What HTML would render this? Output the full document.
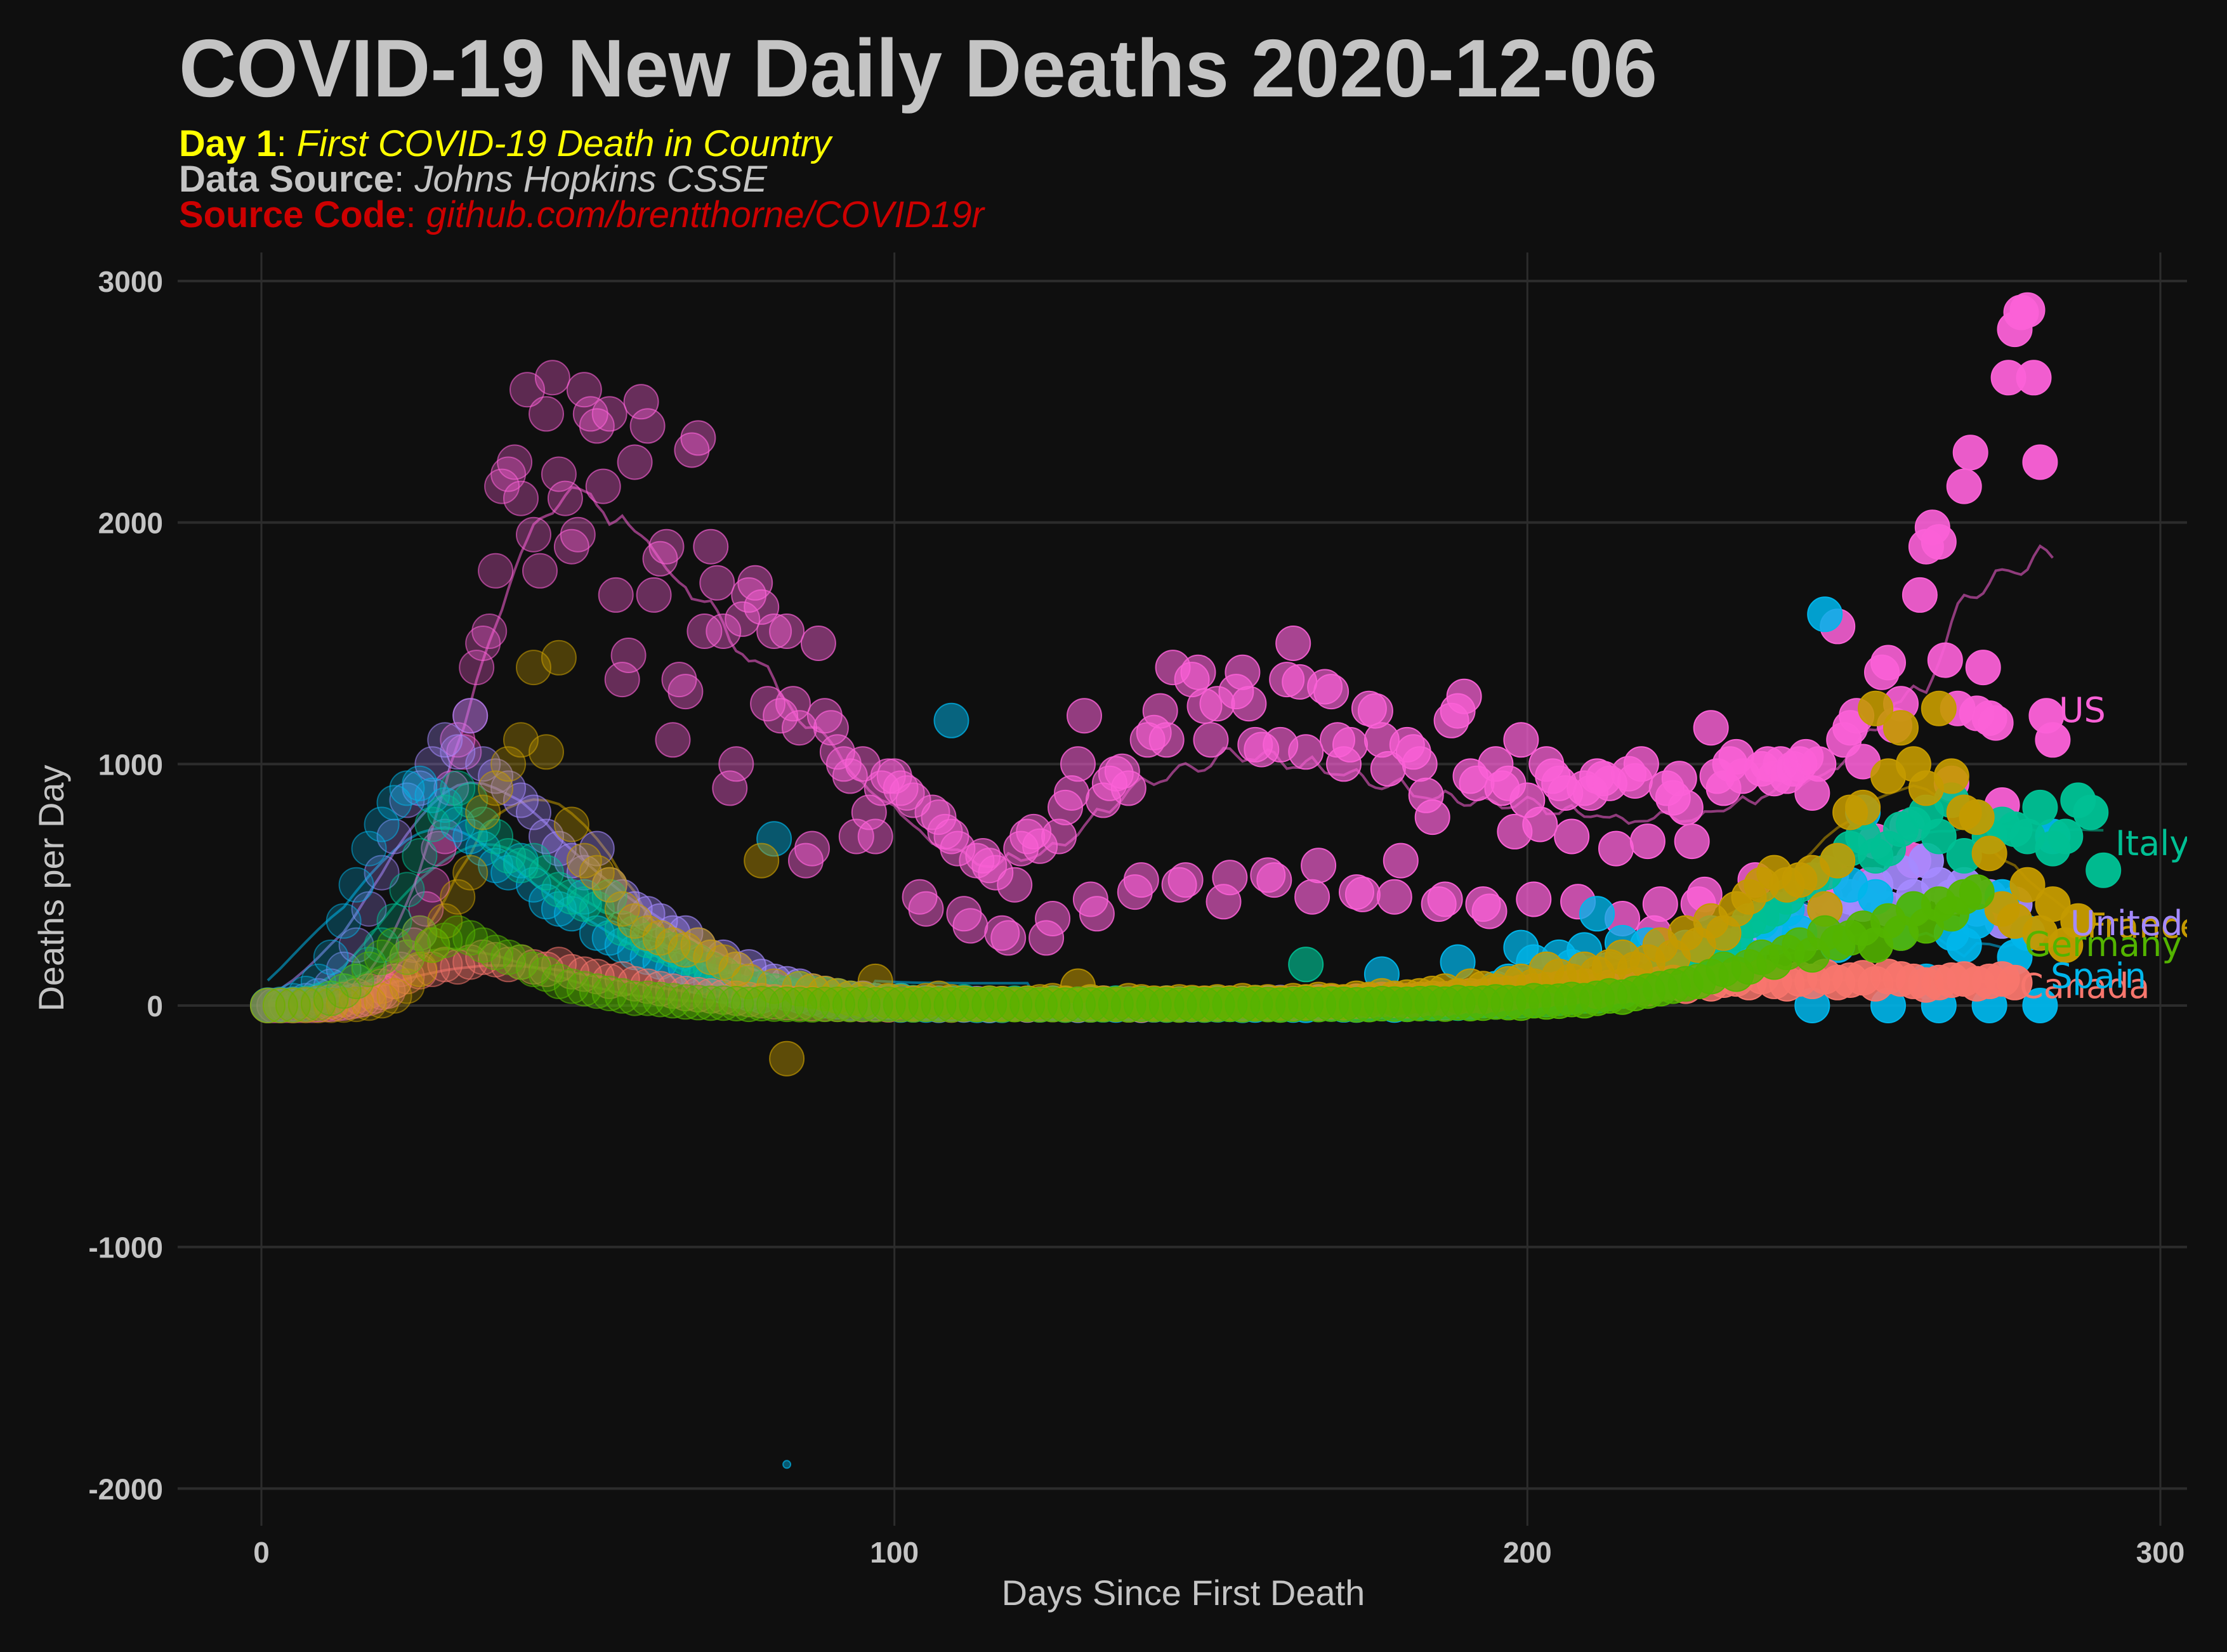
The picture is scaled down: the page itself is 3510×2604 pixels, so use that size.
<!DOCTYPE html>
<html><head><meta charset="utf-8"><style>
html,body{margin:0;padding:0;background:#0f0f0f;}
svg{display:block;}
</style></head><body>
<svg id="chart" width="3510" height="2604" viewBox="0 0 3510 2604" xmlns="http://www.w3.org/2000/svg">
<rect x="0" y="0" width="3510" height="2604" fill="#0f0f0f"/>
<text x="282" y="152" font-family="Liberation Sans, sans-serif" font-weight="bold" font-size="129" fill="#c4c4c4" textLength="2330" lengthAdjust="spacingAndGlyphs">COVID-19 New Daily Deaths 2020-12-06</text>
<text x="282" y="246" font-family="Liberation Sans, sans-serif" font-size="58" fill="#ffff00" textLength="1028" lengthAdjust="spacingAndGlyphs"><tspan font-weight="bold">Day 1</tspan>: <tspan font-style="italic">First COVID-19 Death in Country</tspan></text>
<text x="282" y="302" font-family="Liberation Sans, sans-serif" font-size="58" fill="#c4c4c4" textLength="927" lengthAdjust="spacingAndGlyphs"><tspan font-weight="bold">Data Source</tspan>: <tspan font-style="italic">Johns Hopkins CSSE</tspan></text>
<text x="282" y="358" font-family="Liberation Sans, sans-serif" font-size="58" fill="#cc0000" textLength="1269" lengthAdjust="spacingAndGlyphs"><tspan font-weight="bold">Source Code</tspan>: <tspan font-style="italic">github.com/brentthorne/COVID19r</tspan></text>
<g id="grid"></g>
<g id="axes"></g>
<defs><clipPath id="panelClip"><rect x="280" y="398" width="3167" height="2008"/></clipPath></defs>
<g id="lines" clip-path="url(#panelClip)"></g>
<g id="points" clip-path="url(#panelClip)"></g>
<g id="labels" clip-path="url(#panelClip)"></g>
<text x="1865" y="2530" text-anchor="middle" font-family="Liberation Sans, sans-serif" font-size="56" fill="#c4c4c4">Days Since First Death</text>
<text x="100" y="1400" text-anchor="middle" transform="rotate(-90 100 1400)" font-family="Liberation Sans, sans-serif" font-size="56" fill="#c4c4c4">Deaths per Day</text>
</svg>
<script>
const xTicks = [0, 100, 200, 300];
const yTicks = [-2000, -1000, 0, 1000, 2000, 3000];
const countries = ["Canada", "France", "Germany", "Italy", "Spain", "United Kingdom", "US"];
const colors = ["#F8766D", "#C49A00", "#53B400", "#00C094", "#00B6EB", "#A58AFF", "#FB61D7"];
const steps = [2, 2, 2, 2, 2, 2, 1];
const canadaDeaths = [0,1,2,5,10,15,25,40,60,80,100,120,140,150,170,160,180,200,190,170,180,160,150,170,140,130,120,100,110,90,80,70,60,50,45,40,35,30,25,20,15,12,10,8,6,5,5,4,6,3,4,5,6,3,2,4,5,3,4,5,3,5,4,6,3,4,5,6,3,2,4,5,3,4,5,6,8,5,7,6,10,8,12,10,15,12,18,20,25,22,20,25,30,28,35,40,38,45,50,55,60,65,70,75,80,60,75,80,85,70,90,95,80,100,90,105,110,95,120,100,90,110,100,120,95,105,115,90,120,110,100,85,95,105,110,90,100,110,95];
const franceDeaths = [0,0,0,0,0,1,2,5,10,20,40,80,150,250,350,450,550,800,900,1000,1100,1400,1050,1440,750,600,550,500,400,350,300,280,250,230,250,200,180,150,100,600,80,-220,70,60,50,40,30,25,100,20,15,10,20,30,15,10,5,10,8,5,10,15,20,10,80,15,10,5,20,15,10,10,15,12,10,15,10,20,12,15,10,20,15,25,20,15,30,25,40,30,35,40,50,60,40,80,70,60,90,100,80,150,120,100,150,130,160,200,150,180,250,200,300,250,350,300,400,450,500,550,500,520,550,400,600,800,820,1230,950,1150,1000,900,1230,950,800,780,630,400,350,500,300,420,250,350];
const germanyDeaths = [0,1,2,5,10,30,60,100,150,200,250,200,300,250,270,300,280,250,220,200,180,150,130,100,80,70,60,50,40,30,30,25,20,15,12,10,10,8,5,8,6,5,4,3,5,5,4,6,3,5,4,3,5,4,3,6,4,5,3,4,5,3,4,2,5,3,4,6,3,5,4,3,2,5,3,4,5,3,6,4,2,5,8,4,6,5,3,4,8,6,5,8,10,6,12,8,10,15,12,10,20,15,18,25,20,30,40,35,50,60,70,80,90,100,120,150,130,160,200,180,220,250,210,300,260,280,320,250,350,300,400,330,420,380,450,470];
const italyDeaths = [1,2,5,10,20,30,60,100,170,250,350,480,620,750,800,900,850,750,700,620,580,600,550,480,450,420,400,450,320,300,270,250,230,200,180,150,130,100,90,70,60,50,70,50,45,40,30,25,20,15,20,12,10,8,10,15,5,10,8,10,8,5,10,7,5,12,3,10,5,8,5,10,6,8,5,10,5,8,12,6,10,5,170,8,6,10,12,5,8,10,10,12,8,15,10,12,20,15,18,20,22,25,30,35,40,40,50,60,80,100,130,120,150,200,220,250,300,350,370,400,450,500,520,550,600,650,700,620,650,730,750,800,700,850,620,780,700,750,730,700,820,650,700,850,800,560];
const spainDeaths = [2,5,20,50,100,200,350,500,650,750,840,900,920,870,830,750,700,650,580,550,600,500,430,400,380,450,300,280,250,220,200,180,150,160,120,100,80,60,50,40,690,-1900,40,30,20,15,10,5,8,5,2,3,2,1,1180,2,1,0,1,5,2,3,5,2,1,3,5,2,5,1,3,2,5,3,2,3,5,1,2,5,3,2,1,5,10,3,2,5,130,2,5,10,15,20,180,30,25,70,100,240,180,150,200,160,230,380,150,260,120,250,180,100,240,200,300,180,250,200,350,280,400,300,0,1620,250,500,800,450,0,300,400,100,0,300,250,350,0,450,200,300,0,700];
const ukDeaths = [1,2,5,20,40,80,150,250,400,550,700,850,900,1000,1100,1050,1200,1000,950,900,850,800,700,650,600,550,650,500,450,400,380,350,300,300,250,200,200,150,160,120,100,90,80,60,50,40,30,30,20,15,20,10,12,10,8,10,8,5,6,5,8,5,10,6,5,8,10,5,6,8,5,10,6,5,8,5,10,8,6,10,12,8,10,15,10,12,15,20,18,25,10,12,15,12,20,18,25,20,30,35,40,50,60,70,80,60,70,80,90,100,110,120,150,130,180,200,220,250,280,300,320,350,300,400,380,450,420,500,400,550,450,600,500,450,500,400,450,350,420,300];
const usDeaths = [0,0,0,1,0,1,2,1,3,4,5,8,10,15,20,25,30,40,55,60,100,150,200,250,300,400,500,650,700,900,1100,1050,1200,1400,1500,1550,1800,2150,2200,2250,2100,2550,1950,1800,2450,2600,2200,2100,1900,1950,2550,2450,2400,2150,2450,1700,1350,1450,2250,2500,2400,1700,1850,1900,1100,1350,1300,2300,2350,1550,1900,1750,1550,900,1000,1600,1700,1750,1650,1250,1550,1200,1550,1250,1150,600,650,1500,1200,1150,1050,1000,950,700,1000,800,700,900,950,950,900,880,850,450,400,800,780,720,700,650,380,330,600,620,580,550,300,280,500,650,700,720,660,280,360,700,820,880,1000,1200,440,380,850,920,960,970,900,470,520,1100,1130,1220,1100,1400,500,520,1350,1380,1240,1100,1250,430,530,1300,1380,1250,1080,1060,540,520,1080,1350,1500,1340,1050,450,580,1320,1300,1100,1000,1080,470,460,1230,1220,1100,980,450,600,1080,1050,1000,870,780,420,440,1180,1220,1280,950,920,420,390,1000,900,920,720,1100,850,440,750,1000,950,920,880,700,430,900,880,950,940,920,650,360,960,930,1000,680,300,420,900,860,940,820,680,420,460,1150,950,900,1000,1030,950,300,520,980,1000,940,1000,950,980,1000,1030,880,1000,450,540,1570,1100,1150,1200,1010,500,680,1380,1420,1160,1250,740,600,1700,1900,1980,1920,1430,920,1230,2150,2290,1210,1400,1190,1170,830,2600,2800,2870,2880,2600,2250,1200,1100];
const series = [canadaDeaths, franceDeaths, germanyDeaths, italyDeaths, spainDeaths, ukDeaths, usDeaths];
const drawOrder = [6, 5, 4, 3, 0, 1, 2];
const labelPos = [[3183,1573],[3289,1478],[3191,1507],[3334,1348],[3232,1557],[3263,1474],[3245,1138]];

const NS = "http://www.w3.org/2000/svg";
const X0 = 412, XS = (3405 - 412) / 300;
const Y0 = 1585, YS = (1585 - 443) / 3000;
function xScale(d) { return X0 + d * XS; }
function yScale(v) { return Y0 - v * YS; }
function mk(tag, attrs, parent) {
  const el = document.createElementNS(NS, tag);
  for (const k in attrs) el.setAttribute(k, attrs[k]);
  parent.appendChild(el);
  return el;
}
const grid = document.getElementById("grid");
const axes = document.getElementById("axes");
yTicks.forEach(t => {
  const ln = mk("line", {x1: 280, x2: 3447, y1: yScale(t), y2: yScale(t), stroke: "#2c2c2c", "stroke-width": 4}, grid);
  
  
  const tx = mk("text", {x: 257, y: yScale(t) + 17, "text-anchor": "end", "font-family": "Liberation Sans, sans-serif", "font-weight": "bold", "font-size": 46, fill: "#c4c4c4"}, axes);
  tx.textContent = t;
  
  
});
xTicks.forEach(t => {
  const ln = mk("line", {x1: xScale(t), x2: xScale(t), y1: 398, y2: 2405, stroke: "#2c2c2c", "stroke-width": 3}, grid);
  
  
  const tx = mk("text", {x: xScale(t), y: 2463, "text-anchor": "middle", "font-family": "Liberation Sans, sans-serif", "font-weight": "bold", "font-size": 46, fill: "#c4c4c4"}, axes);
  tx.textContent = t;
  
  
});

const linesG = document.getElementById("lines");
series.forEach((vals, ci) => {
  const step = steps[ci];
  const half = Math.round(12 / step);
  let d = "";
  for (let i = 0; i < vals.length; i++) {
    let s = 0, n = 0;
    for (let j = Math.max(0, i - half); j <= Math.min(vals.length - 1, i + half); j++) {
      const v = vals[j] < -1000 ? 0 : vals[j];
      s += v; n++;
    }
    const day = 1 + i * step;
    d += (i ? "L" : "M") + xScale(day).toFixed(1) + "," + yScale(s / n).toFixed(1);
  }
  const p = mk("path", {d: d, fill: "none", stroke: colors[ci], "stroke-width": 4, "stroke-opacity": 0.55}, linesG);
  
  
});

const ptsG = document.getElementById("points");
drawOrder.forEach(ci => {
  series[ci].forEach((v, i) => {
    const day = 1 + i * steps[ci];
    const a = Math.min(0.97, 0.22 + 0.75 * day / 285);
    const r = v < -1000 ? 6 : 27;
    const c = mk("circle", {cx: xScale(day).toFixed(1), cy: yScale(v).toFixed(1), r: r, fill: colors[ci], "fill-opacity": a.toFixed(2), stroke: colors[ci], "stroke-opacity": Math.min(1, a + 0.25).toFixed(2), "stroke-width": 2}, ptsG);
    
    
  });
});

const labG = document.getElementById("labels");
countries.forEach((name, ci) => {
  const t = mk("text", {x: labelPos[ci][0], y: labelPos[ci][1], "font-family": "DejaVu Sans, sans-serif", "font-size": 54, fill: colors[ci]}, labG);
  t.textContent = name;
  
  
});
</script>
</body></html>
